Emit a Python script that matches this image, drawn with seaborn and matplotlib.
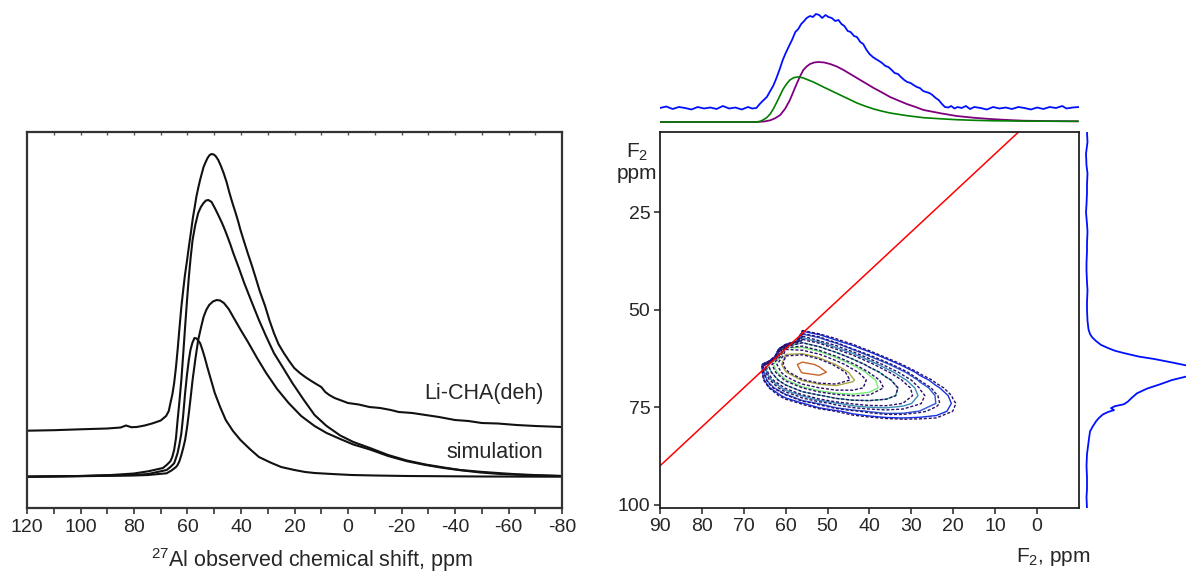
import numpy as np
import pandas as pd
import matplotlib
matplotlib.use("Agg")
import matplotlib.pyplot as plt
import seaborn as sns

# ---------------- Left panel: 1D 27Al spectra (ppm, intensity) ----------------
exp_ppm = [120, 110, 100, 90, 85, 83, 81, 79, 76, 73, 70, 68, 67, 66.4, 65.7, 65, 64.3, 63.6, 63,
           62.3, 61.6, 61, 60.2, 59.5, 58.7, 58, 57.3, 56.7, 56, 55.3, 54.6, 54, 53.2, 52.5, 51.7,
           51, 50.2, 49.5, 48.5, 47.5, 46.5, 45.4, 44.3, 43.2, 42, 41, 40.2, 38.8, 37.5, 36, 34.6,
           33, 31, 29.4, 27.7, 26, 24, 22, 20.1, 18, 16, 14, 12.5, 10, 8.5, 7, 5, 3, 0, -4, -8,
           -12, -16, -19, -24, -29, -34, -40, -45, -50, -56, -63, -70, -75, -80]
exp_int = [77.3, 77.8, 78.7, 79.5, 80.5, 82.5, 80.8, 81, 82.5, 84.7, 87.5, 92, 97, 104.7, 113,
           124.7, 141, 161, 180, 201, 218, 232, 247, 261, 276, 290, 301, 311, 320, 328, 335, 341,
           346, 350, 353, 354, 353.5, 352, 348, 342, 335, 326, 315, 305, 295, 286, 278, 266,
           255, 243, 231, 217, 202, 188, 175, 164, 155, 147, 140, 135, 131, 127.5, 125, 121,
           116, 113, 110, 108, 105, 103.5, 101, 100, 98, 96, 95, 93, 91, 88, 87, 85, 84.5, 83,
           82, 81.5, 81]

sim_ppm = [120, 100, 88.5, 80, 74.7, 69.2, 67.8, 66.4, 65.7, 65, 64.3, 63.7, 63, 62.3, 61.6, 60.9,
           60.2, 59.5, 58.8, 58.1, 57.1, 56, 55, 54, 53.1, 52.2, 51, 49.8, 48.5, 47.1, 46, 45,
           43.9, 42.9, 40.8, 38.8, 36, 33.3, 30.5, 27.7, 24, 20.8, 16.5, 12.5, 8, 2.9, -2, -8.2,
           -15, -22, -29, -35.8, -42, -49.6, -57, -63.4, -72, -80]
sim_int = [31.3, 32, 33, 34.5, 36.7, 40, 43, 46.7, 51, 58, 70, 88, 107, 128, 154, 181, 207, 231,
           251, 268, 283, 295, 301, 305, 307.5, 308, 306, 300, 293, 285, 278, 271, 263, 255, 240,
           225, 206, 188, 171, 155, 139, 125, 108, 93, 82, 72.5, 66, 60, 53, 47.5, 43.5, 40.5,
           38, 36.2, 34.8, 33.7, 32.7, 32]

site2_ppm = [120, 100, 80, 74.7, 67.8, 66, 65, 64.3, 63.7, 63, 62.3, 61.6, 60.9, 60.2, 59.5, 58.8,
             58.1, 57, 56, 55, 54, 53, 51.9, 50.5, 49.1, 47.8, 46.4, 44.6, 42.9, 40.1, 37.4, 34,
             30.6, 26.5, 22.2, 17.5, 12.5, 8, 2.9, -2, -8.2, -15, -22, -29, -35.8, -42, -49.6,
             -57, -63.4, -72, -80]
site2_int = [31.3, 31.8, 32.5, 33, 34.7, 37.5, 39.5, 41, 43, 47, 53, 60, 68, 80, 94.7, 111, 128,
             150, 168, 180, 191, 198, 203, 206.5, 208, 207.5, 205, 199, 191, 178, 166, 150, 135,
             119, 105, 92, 82, 75, 69, 63.5, 58.5, 52, 46.8, 43, 40, 37.8, 35.5, 34, 33.3, 32.5,
             32]

site1_ppm = [120, 100, 80, 74.7, 67.8, 66.4, 65, 64.3, 63.7, 63, 62.3, 61.6, 60.9, 60.2, 59.5,
             58.9, 58.2, 57.4, 56.6, 55.9, 55.3, 54.4, 53.5, 52.6, 51.2, 49.8, 47.8, 45.7, 43,
             40.2, 36.7, 33.3, 29, 25, 20, 16, 12.5, 6, -1.3, -10, -22, -50, -80]
site1_int = [31.3, 32, 33, 34, 38, 41, 44.7, 50, 55, 64, 74.7, 93, 114.7, 133, 148, 158, 165,
             170, 169.5, 167, 165, 158, 150, 141, 128, 115, 101, 88, 77, 68, 59, 51, 45.5, 41,
             38, 36, 35, 34, 33, 32.5, 32, 31.5, 31.3]

left_ticks = [120, 100, 80, 60, 40, 20, 0, -20, -40, -60, -80]

# ---------------- Right panel: 2D contour map (F2 columns, F1 rows) ----------------
F2_cols = [68, 64, 60, 56, 52, 48, 44, 40, 36, 32, 28, 24, 20, 16]
F1_rows = [54, 56, 58, 60, 62, 64, 66, 68, 70, 72, 74, 76, 78, 80]
Z_rows = [
    [0, 0, 0, 0, 1.4, 0.5, 0.2, 0, 0, 0, 0, 0, 0, 0],
    [0, 0, -30, 9.3, 5.2, 2.2, 0.8, 0.3, 0.1, 0, 0, 0, 0, 0],
    [0, -60, -30, 24.4, 15.4, 7.7, 3.3, 1.2, 0.4, 0.1, 0, 0, 0, 0],
    [0, -60, 53.4, 49.7, 35.5, 20.3, 9.9, 4.2, 1.6, 0.6, 0.2, 0, 0, 0],
    [-40, -30, 73.8, 78.8, 63.9, 41.9, 23.6, 11.4, 5.0, 2.0, 0.7, 0.2, 0, 0],
    [-30, 32.6, 79.6, 97.5, 89.6, 67.3, 43.5, 24.3, 12.2, 5.6, 2.1, 0.7, 0.2, 0],
    [-20, 23.9, 66.8, 94.0, 97.7, 84.3, 62.5, 40.0, 23.0, 12.0, 5.1, 2.1, 0.8, 0.2],
    [-10, 13.6, 43.7, 70.4, 83.1, 82.2, 70.0, 51.4, 34.0, 20.0, 9.8, 4.6, 1.9, 0.6],
    [0, 6.0, 22.2, 41.2, 55.0, 62.4, 61.0, 51.4, 39.0, 26.0, 14.6, 7.8, 3.6, 1.4],
    [0, 2.1, 8.8, 18.7, 28.3, 37.0, 41.4, 40.0, 34.8, 26.3, 17.0, 10.4, 5.5, 2.4],
    [0, 0.6, 2.7, 6.6, 11.4, 17.0, 21.9, 24.3, 24.3, 20.8, 15.4, 10.8, 6.5, 3.3],
    [0, 0.1, 0.6, 1.8, 3.5, 6.1, 9.0, 11.4, 13.1, 12.7, 10.8, 8.8, 5.9, 3.5],
    [0, 0, 0.1, 0.4, 0.9, 1.7, 2.9, 4.2, 5.5, 6.1, 5.9, 5.5, 4.2, 2.8],
    [0, 0, 0, 0, 0.2, 0.4, 0.7, 1.2, 1.8, 2.3, 2.5, 2.7, 2.4, 1.8],
]
exp_levels = [7, 11, 18, 30, 45, 68, 92]
exp_colors = ['#1432e6', '#2a58d8', '#3a90b8', '#48b8a0', '#78ea78', '#a8a848', '#c86428']
sim_levels = [6, 10, 15, 21, 30, 41, 55, 72]
sim_color = '#2a0e6a'
x2d_ticks = [90, 80, 70, 60, 50, 40, 30, 20, 10, 0]
y2d_ticks = [25, 50, 75, 100]

# top projection (F2)
top_exp_ppm = [90, 88.5, 87, 85.5, 84, 82.5, 81, 79.5, 78, 76.5, 75, 73.5, 72, 70.5, 69, 68, 67,
               66.2, 65.5, 64.5, 63.7, 63, 62.3, 61.5, 60.7, 60, 59.2, 58.5, 57.7, 57, 56.3, 55.6,
               55, 54.2, 53.5, 52.8, 52, 51.3, 50.5, 49.8, 49, 48.2, 47.4, 46.7, 46, 45.2, 44.5,
               43.7, 43, 42.2, 41.5, 40.7, 40, 39.2, 38.5, 37.7, 37, 36.2, 35.5, 34.7, 34, 33.2,
               32.5, 31.7, 31, 30.2, 29.5, 28.7, 28, 27.2, 26.5, 25.7, 25, 24.2, 23.5, 22.7, 22,
               21.2, 20.5, 19.7, 19, 18, 17, 16, 15, 13.5, 12, 10.5, 9, 7.5, 6, 4.5, 3, 1.5, 0,
               -1.5, -3, -4.5, -6, -7, -8.5, -10]
top_exp_int = [14, 15.5, 13, 15, 14, 12.5, 15, 13.5, 14.5, 13, 16, 13.5, 14.5, 12.5, 15, 13.5, 14,
               18, 21, 25, 31, 36, 43, 52, 62, 69, 76, 82, 90, 93, 98, 101, 104, 106, 105, 108,
               107, 104, 107, 105, 104, 101, 102, 98, 96, 91, 90, 86, 85, 80, 78, 72, 68, 65, 63,
               61, 59, 56, 55, 52, 49, 48, 45, 42, 40, 39, 37, 35, 34, 31, 30, 29, 27, 24, 22, 18,
               15, 14.5, 16, 13.5, 15, 14, 16, 13, 15, 14, 12.5, 15, 13.5, 14.5, 13, 15, 14, 12.5,
               14.5, 13, 15, 14, 16, 13.5, 14.5, 15]

top_site2_ppm = [90, 75, 66.9, 65, 63.7, 62.5, 61.3, 60.1, 59.0, 58.2, 57.4, 56.6, 55.8, 55, 54.2,
                 53.2, 52.2, 50.8, 49.4, 47.8, 46.2, 44.6, 43.0, 41, 39.0, 37, 35.1, 33, 31.1, 29,
                 27.1, 23, 19.2, 15, 11.2, 7, 3.3, -3, -9.8]
top_site2_int = [0, 0, 0, 0.6, 1.7, 3.8, 7, 13.5, 22, 30, 38, 45.5, 52, 55.5, 58, 59.5, 60, 59.5,
                 58, 55.5, 52, 48, 44, 39, 34, 29.5, 25, 21.3, 18, 15, 12, 8.7, 6, 4.2, 3, 2,
                 1.3, 0.9, 0.7]
top_site1_ppm = [90, 75, 66.9, 66, 65.3, 64.5, 63.7, 62.9, 62.1, 61.3, 60.6, 59.8, 59.0, 58.1,
                 57.2, 56.5, 55.8, 54.6, 53.4, 52.2, 51.0, 49, 47.0, 45, 43.0, 41, 39.0, 37, 35.1,
                 31, 27.1, 23, 19.2, 15, 11.2, 3, -9.8]
top_site1_int = [0, 0, 0, 0.8, 2.3, 4.5, 8, 13.5, 20, 27, 33, 38, 42, 44.3, 45, 44.8, 44, 42, 40,
                 37.5, 35, 31, 27, 23, 19, 15.8, 13, 10.8, 9, 6.3, 4.3, 3.2, 2.3, 1.7, 1.3, 0.9,
                 0.7]

# right projection (F1)
right_F1 = [4.5, 7, 10, 13, 15, 18, 20, 23, 25, 28, 30, 33, 35, 38, 40, 43, 45, 48, 50, 52.8, 55,
            56.2, 57, 58, 59, 59.8, 60.5, 61.1, 62, 62.6, 63.5, 64.4, 65.2, 66, 67, 68, 69.1, 70.2,
            71.4, 72.5, 73.5, 74.2, 74.7, 75.2, 75.7, 76.2, 76.8, 77.7, 78.6, 80, 81.2, 83, 85,
            87, 90, 93, 96, 98, 101]
right_int = [3, 3.5, 2, 2.5, 3.5, 3, 3, 2.5, 2, 3, 3.5, 3, 3, 2.5, 2.5, 3, 3.5, 3, 3, 3.5, 4.5, 6,
             8, 12, 17, 24, 31, 40, 55, 70, 88, 105, 125, 130, 104, 88, 76, 63, 53, 48, 44, 40, 31,
             27, 30, 24, 19, 15, 12, 8.5, 6, 5, 4, 3, 2.5, 3, 3, 2.5, 3]

# ---------------- styling ----------------
sns.set_theme(style="white")
plt.rcParams['font.family'] = ['Liberation Sans', 'DejaVu Sans']
plt.rcParams['mathtext.fontset'] = 'custom'
plt.rcParams['mathtext.rm'] = 'Liberation Sans'
plt.rcParams['mathtext.it'] = 'Liberation Sans:italic'
plt.rcParams['axes.unicode_minus'] = False
plt.rcParams['lines.dashed_pattern'] = [2.2, 1.3]
plt.rcParams['lines.solid_joinstyle'] = 'round'
FS = 14
FL = 15.5

W, H = 1186, 574
fig = plt.figure(figsize=(W / 100, H / 100), dpi=100)


def rect(x0, y0, x1, y1):
    return [x0 / W, 1 - y1 / H, (x1 - x0) / W, (y1 - y0) / H]


# ---- left panel ----
axL = fig.add_axes(rect(27, 132, 562, 508))
black = '#111111'
for xs, ys in [(exp_ppm, exp_int), (sim_ppm, sim_int), (site2_ppm, site2_int),
               (site1_ppm, site1_int)]:
    sns.lineplot(x=xs, y=ys, ax=axL, color=black, lw=1.5, estimator=None, sort=False)
axL.set_xlim(120, -80)
axL.set_ylim(0, 376)
axL.set_xticks(left_ticks)
axL.set_xticklabels([str(t) for t in left_ticks])
axL.set_xticks(list(range(110, -80, -20)), minor=True)
axL.set_yticks([])
axL.tick_params(axis='x', which='both', direction='out', length=4, width=1.2,
                color='#333333', labelsize=FS, pad=4, bottom=True)
for s in axL.spines.values():
    s.set_color('#333333')
    s.set_linewidth(1.6)
secL = axL.secondary_xaxis('top')
secL.set_xticks(list(range(110, -80, -10)))
secL.tick_params(direction='in', length=2, width=1, color='#555555', labeltop=False)
secL.spines['top'].set_visible(False)
axL.text(-73, 115, 'Li-CHA(deh)', ha='right', va='center', fontsize=FL)
axL.text(-73, 55, 'simulation', ha='right', va='center', fontsize=FL)
fig.text(312 / W, 1 - 560 / H, r'$^{\mathregular{27}}$Al observed chemical shift, ppm',
         ha='center', va='center', fontsize=FL)

# ---- 2D panel ----
ax2 = fig.add_axes(rect(660, 132, 1079, 508))
ax2.contour(F2_cols, F1_rows, np.array(Z_rows), levels=exp_levels, colors=exp_colors,
            linewidths=1.0, linestyles='solid')
ax2.contour(F2_cols, F1_rows, np.array(Z_rows), levels=sim_levels, colors=sim_color,
            linewidths=1.0, linestyles='dashed')
ax2.axline((0, 0), (100, 100), color='#ff0000', lw=1.1)
ax2.set_xlim(90, -10)
ax2.set_ylim(100.8, 4.43)
ax2.set_xticks(x2d_ticks)
ax2.set_xticklabels([str(t) for t in x2d_ticks])
ax2.set_yticks(y2d_ticks)
ax2.set_yticklabels([str(t) for t in y2d_ticks])
ax2.tick_params(direction='out', length=4, width=1.2, color='#333333', labelsize=FS, pad=3,
                bottom=True, left=True)
for s in ax2.spines.values():
    s.set_color('#222222')
    s.set_linewidth(1.3)
fig.text(637 / W, 1 - 162 / H, 'F$_\\mathregular{2}$\nppm', ha='center', va='center',
         fontsize=15, linespacing=1.05)
fig.text(1053 / W, 1 - 557 / H, 'F$_\\mathregular{2}$, ppm', ha='center', va='center',
         fontsize=15)

# ---- top projection ----
axT = fig.add_axes(rect(660, 5, 1079, 128))
sns.lineplot(x=top_exp_ppm, y=top_exp_int, ax=axT, color='#0010ff', lw=1.3, estimator=None,
             sort=False)
sns.lineplot(x=top_site2_ppm, y=top_site2_int, ax=axT, color='#800080', lw=1.3,
             estimator=None, sort=False)
sns.lineplot(x=top_site1_ppm, y=top_site1_int, ax=axT, color='#008000', lw=1.2,
             estimator=None, sort=False)
axT.set_xlim(90, -10)
axT.set_ylim(-6, 117)
axT.axis('off')

# ---- right projection ----
axR = fig.add_axes(rect(1084, 132, 1186, 508))
sns.lineplot(x=right_int, y=right_F1, ax=axR, color='#0010ff', lw=1.3, estimator=None,
             sort=False, orient='y')
axR.set_xlim(0, 102)
axR.set_ylim(100.8, 4.43)
axR.axis('off')

fig.savefig('out.png', dpi=100)
